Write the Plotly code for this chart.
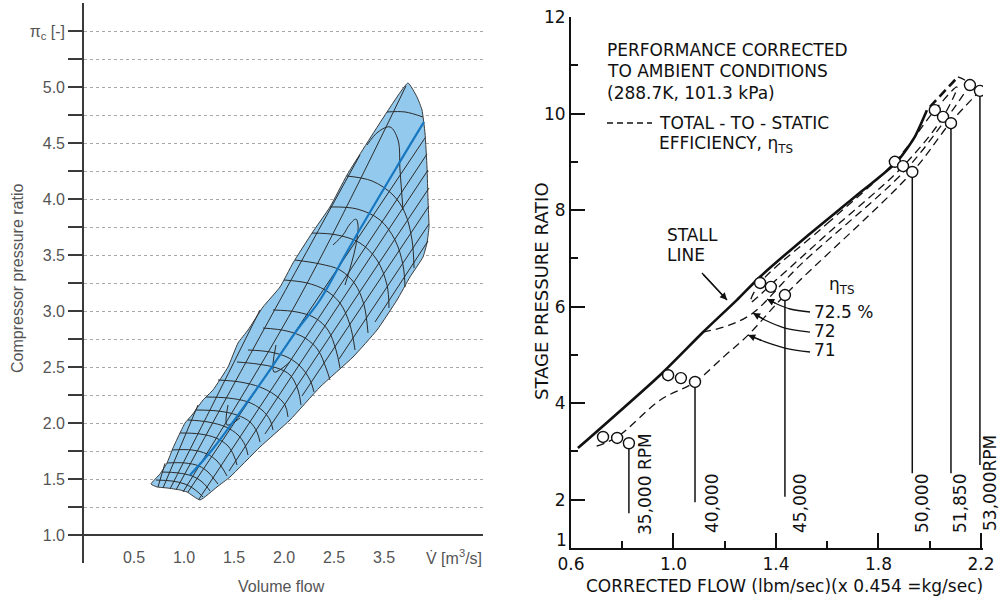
import plotly.graph_objects as go

W, H = 1003, 602

# ---------------- left panel: compressor map ----------------
# outline of the operating region (volume flow in m3/s, pressure ratio)
map_flow = [0.67, 0.76, 0.83, 0.89, 0.96, 1.01, 1.08, 1.19, 1.29, 1.44, 1.54, 1.64, 1.79, 1.96, 2.09,
            2.28, 2.46, 2.63, 2.83, 3.03, 3.24, 3.33, 3.38, 3.41, 3.43, 3.44, 3.45, 3.43, 3.39, 3.26,
            3.13, 2.93, 2.69, 2.36, 2.06, 1.76, 1.46, 1.33, 1.16, 1.03, 0.96, 0.83, 0.73, 0.67]
map_ratio = [1.455, 1.545, 1.643, 1.777, 1.911, 2.0, 2.071, 2.205, 2.295, 2.5, 2.714, 2.83, 3.036, 3.214, 3.429,
             3.696, 3.929, 4.214, 4.5, 4.777, 5.036, 4.911, 4.795, 4.589, 4.286, 3.991, 3.75, 3.607, 3.482, 3.304,
             3.098, 2.830, 2.589, 2.321, 2.027, 1.786, 1.518, 1.429, 1.313, 1.384, 1.402, 1.420, 1.429, 1.455]

# best-efficiency ridge
ridge_flow = [1.06, 1.28, 1.79, 2.13, 2.36, 2.64, 3.11, 3.40]
ridge_ratio = [1.536, 1.759, 2.384, 2.830, 3.098, 3.545, 4.259, 4.688]

# speed lines (surge side -> choke side)
speed_lines = [
    ([3.03, 3.21, 3.39], [4.777, 4.777, 4.732]),
    ([2.83, 2.94, 3.06, 3.14, 3.16, 3.19], [4.482, 4.598, 4.643, 4.527, 4.259, 3.902]),
    ([2.63, 2.88, 3.09, 3.21, 3.28, 3.30], [4.205, 4.161, 4.036, 3.875, 3.634, 3.384]),
    ([2.46, 2.73, 2.96, 3.11, 3.19, 3.21], [3.929, 3.911, 3.813, 3.634, 3.411, 3.214]),
    ([2.28, 2.53, 2.76, 2.93, 3.03, 3.05], [3.696, 3.679, 3.607, 3.455, 3.232, 3.027]),
    ([2.11, 2.36, 2.56, 2.71, 2.80, 2.84], [3.455, 3.420, 3.366, 3.241, 3.054, 2.804]),
    ([2.00, 2.23, 2.41, 2.56, 2.66, 2.71], [3.277, 3.250, 3.188, 3.071, 2.875, 2.652]),
    ([1.89, 2.13, 2.31, 2.44, 2.52, 2.56], [3.009, 2.991, 2.938, 2.830, 2.652, 2.491]),
    ([1.79, 2.03, 2.21, 2.34, 2.42, 2.46], [2.848, 2.821, 2.759, 2.652, 2.491, 2.384]),
    ([1.64, 1.86, 2.03, 2.16, 2.26, 2.30], [2.652, 2.634, 2.589, 2.509, 2.384, 2.277]),
    ([1.53, 1.73, 1.93, 2.06, 2.14, 2.17], [2.545, 2.527, 2.491, 2.429, 2.295, 2.161]),
    ([1.34, 1.56, 1.76, 1.91, 2.01, 2.04], [2.384, 2.366, 2.321, 2.250, 2.161, 2.054]),
    ([1.22, 1.44, 1.64, 1.78, 1.86, 1.89], [2.232, 2.223, 2.188, 2.116, 2.027, 1.938]),
    ([1.12, 1.34, 1.53, 1.66, 1.73, 1.76], [2.116, 2.107, 2.071, 2.009, 1.920, 1.830]),
    ([1.04, 1.24, 1.42, 1.54, 1.61, 1.64], [2.027, 2.009, 1.964, 1.893, 1.804, 1.714]),
    ([0.96, 1.16, 1.32, 1.44, 1.50, 1.53], [1.911, 1.902, 1.866, 1.795, 1.705, 1.625]),
    ([0.88, 1.08, 1.23, 1.33, 1.39, 1.43], [1.759, 1.759, 1.723, 1.661, 1.589, 1.527]),
    ([0.83, 1.01, 1.15, 1.24, 1.30, 1.34], [1.643, 1.643, 1.616, 1.5625, 1.500, 1.455]),
    ([0.78, 0.94, 1.08, 1.17, 1.23, 1.26], [1.5625, 1.554, 1.527, 1.482, 1.429, 1.393]),
    ([0.72, 0.88, 1.01, 1.10, 1.16, 1.19], [1.491, 1.482, 1.455, 1.411, 1.366, 1.339]),
]

# throttle lines: those right of the ridge run up to the choke side,
# those left of it fan out from the low-speed end to the surge side
throttle_lines = [
    ([1.04, 3.41], [1.384, 4.545]),
    ([1.15, 3.43], [1.321, 4.402]),
    ([1.45, 3.44], [1.571, 4.259]),
    ([1.81, 3.45], [1.902, 4.098]),
    ([2.18, 3.45], [2.241, 3.938]),
    ([2.55, 3.45], [2.571, 3.777]),
    ([2.91, 3.44], [2.902, 3.625]),
    ([0.99, 2.14, 3.22], [1.384, 3.098, 5.01]),
    ([0.92, 1.84, 2.76], [1.402, 2.902, 4.393]),
    ([0.86, 1.31, 1.76], [1.411, 2.205, 3.009]),
    ([0.79, 1.14], [1.420, 2.161]),
    ([0.74, 0.81], [1.429, 1.64]),
]

# efficiency islands
eff_islands = [
    ([2.49, 2.59, 2.66, 2.72, 2.74, 2.72, 2.67, 2.61], [3.589, 3.679, 3.777, 3.821, 3.768, 3.589, 3.411, 3.232]),
    ([1.92, 1.90, 2.06], [2.696, 2.455, 2.545]),
    ([1.44, 1.43, 1.56], [2.161, 1.982, 2.045]),
]

left_yticks = [1.0, 1.25, 1.5, 1.75, 2.0, 2.25, 2.5, 2.75, 3.0, 3.25, 3.5, 3.75, 4.0, 4.25, 4.5,
               4.75, 5.0, 5.25, 5.5]
left_ytext = ["1.0", "", "1.5", "", "2.0", "", "2.5", "", "3.0", "", "3.5", "", "4.0", "", "4.5",
              "", "5.0", "", "π<sub>c</sub> [-]"]
left_xticks = [0.5, 1.0, 1.5, 2.0, 2.5, 3.0]
left_xtext = ["0.5", "1.0", "1.5", "2.0", "2.5", "3.5"]

# ---------------- right panel: stage performance ----------------
stall_flow = [0.627, 0.947, 1.115, 1.248, 1.338, 1.521, 1.700, 1.872, 1.940, 1.989]
stall_ratio = [3.07, 4.58, 5.47, 6.14, 6.62, 7.46, 8.24, 9.00, 9.50, 10.07]
stall_ext_flow = [2.001, 2.110]
stall_ext_ratio = [10.14, 10.76]

rpm_labels = ["35,000 RPM", "40,000", "45,000", "50,000", "51,850", "53,000RPM"]
rpm_flow = [[0.725, 0.78, 0.826], [0.979, 1.029, 1.084], [1.338, 1.38, 1.435],
            [1.864, 1.896, 1.932], [2.02, 2.052, 2.083], [2.157, 2.196]]
rpm_ratio = [[3.30, 3.28, 3.17], [4.58, 4.52, 4.44], [6.49, 6.41, 6.24],
             [9.00, 8.91, 8.79], [10.07, 9.93, 9.80], [10.59, 10.47]]
rpm_line_end = [1.72, 1.95, 2.06, 2.55, 2.55, 2.72]

eff725_flow = [1.338, 1.60, 1.864, 2.02, 2.106, 2.052, 1.896, 1.62, 1.40, 1.30, 1.338]
eff725_ratio = [6.49, 7.72, 9.00, 10.07, 10.55, 9.93, 8.91, 7.60, 6.55, 6.09, 6.49]
eff72_flow = [1.115, 1.22, 1.31, 1.494, 1.90, 2.06, 2.157]
eff72_ratio = [5.47, 5.62, 5.87, 6.86, 8.80, 9.86, 10.59]
eff71_flow = [0.70, 0.78, 0.95, 1.084, 1.20, 1.291, 1.435, 1.932, 2.079, 2.196]
eff71_ratio = [3.11, 3.30, 4.07, 4.44, 4.98, 5.41, 6.24, 8.79, 9.80, 10.47]
top_cap_flow = [2.110, 2.135, 2.157]
top_cap_ratio = [10.76, 10.70, 10.59]

# leader curves for the efficiency labels
lead725_flow = [1.533, 1.455, 1.404, 1.365]
lead725_ratio = [5.889, 5.951, 6.054, 6.158]
lead72_flow = [1.533, 1.435, 1.357, 1.310]
lead72_ratio = [5.474, 5.557, 5.723, 5.868]
lead71_flow = [1.533, 1.435, 1.349, 1.291]
lead71_ratio = [5.060, 5.143, 5.288, 5.412]
stall_lead_flow = [1.111, 1.209]
stall_lead_ratio = [6.697, 6.137]

right_yticks = [2, 4, 6, 8, 10, 12]
right_xticks = [0.6, 1.0, 1.4, 1.8, 2.2]

GREY = "#555555"
AX = "#3a3a3a"
LFONT = "Liberation Sans"
RFONT = "DejaVu Sans"
INK = "#111111"


def paper(px, py):
    return px / W, 1 - py / H


fig = go.Figure()

# filled map
fig.add_trace(go.Scatter(x=map_flow, y=map_ratio, mode="lines", fill="toself",
                         fillcolor="#93C9EC", line=dict(color="#3a3a3a", width=1, shape="spline", smoothing=0.4),
                         xaxis="x", yaxis="y", hoverinfo="skip"))
for fx, fy in speed_lines + eff_islands + throttle_lines:
    fig.add_trace(go.Scatter(x=fx, y=fy, mode="lines", line=dict(color="#2b2b2b", width=1, shape="spline"),
                             xaxis="x", yaxis="y", hoverinfo="skip"))
fig.add_trace(go.Scatter(x=ridge_flow, y=ridge_ratio, mode="lines",
                         line=dict(color="#1777C0", width=2.2, shape="spline"),
                         xaxis="x", yaxis="y", hoverinfo="skip"))

# right panel lines
fig.add_trace(go.Scatter(x=stall_flow, y=stall_ratio, mode="lines",
                         line=dict(color=INK, width=2.6, shape="spline", smoothing=0.6), xaxis="x2", yaxis="y2"))
fig.add_trace(go.Scatter(x=stall_ext_flow, y=stall_ext_ratio, mode="lines",
                         line=dict(color=INK, width=2.6, dash="9px,5px"), xaxis="x2", yaxis="y2"))
for fx, fy in [(eff725_flow, eff725_ratio), (eff72_flow, eff72_ratio), (eff71_flow, eff71_ratio),
               (top_cap_flow, top_cap_ratio)]:
    fig.add_trace(go.Scatter(x=fx, y=fy, mode="lines",
                             line=dict(color=INK, width=1.3, dash="8px,5px", shape="spline"),
                             xaxis="x2", yaxis="y2"))
for fx, fy in [(lead725_flow, lead725_ratio), (lead72_flow, lead72_ratio), (lead71_flow, lead71_ratio),
               (stall_lead_flow, stall_lead_ratio)]:
    fig.add_trace(go.Scatter(x=fx, y=fy, mode="lines", line=dict(color=INK, width=1.3, shape="spline"),
                             xaxis="x2", yaxis="y2"))
for fx, fy, yend in zip(rpm_flow, rpm_ratio, rpm_line_end):
    fig.add_trace(go.Scatter(x=[fx[-1], fx[-1]], y=[fy[-1], yend], mode="lines",
                             line=dict(color=INK, width=1.5), xaxis="x2", yaxis="y2"))
    fig.add_trace(go.Scatter(x=fx, y=fy, mode="markers",
                             marker=dict(symbol="circle", size=11, color="white",
                                         line=dict(color=INK, width=1.4)),
                             xaxis="x2", yaxis="y2"))

ann = []
# arrowheads on the leaders
for fx, fy in [(lead725_flow, lead725_ratio), (lead72_flow, lead72_ratio), (lead71_flow, lead71_ratio),
               (stall_lead_flow, stall_lead_ratio)]:
    ann.append(dict(x=fx[-1], y=fy[-1], ax=fx[-2], ay=fy[-2], xref="x2", yref="y2", axref="x2", ayref="y2",
                    showarrow=True, arrowhead=2, arrowsize=1.1, arrowwidth=1.3, arrowcolor=INK, text=""))


def ltxt(text, px, py, **kw):
    x, y = paper(px, py)
    d = dict(text=text, x=x, y=y, xref="paper", yref="paper", showarrow=False,
             font=dict(family=LFONT, size=16, color=GREY), xanchor="center", yanchor="middle")
    d.update(kw)
    ann.append(d)


ltxt("Compressor pressure ratio", 17, 278, textangle=-90)
ltxt("Volume flow", 281, 586)
ltxt("V\u0307 [m<sup>3</sup>/s]", 454, 557)


def rtxt(text, px, py, size=17, **kw):
    x, y = paper(px, py)
    d = dict(text=text, x=x, y=y, xref="paper", yref="paper", showarrow=False,
             font=dict(family=RFONT, size=size, color=INK), xanchor="left", yanchor="middle")
    d.update(kw)
    ann.append(d)


rtxt("PERFORMANCE CORRECTED", 605, 50)
rtxt("TO AMBIENT CONDITIONS", 605, 71)
rtxt("(288.7K, 101.3 kPa)", 605, 93)
rtxt("TOTAL - TO - STATIC", 657, 123)
rtxt("EFFICIENCY, η<sub>TS</sub>", 657, 145)
rtxt("STALL", 665, 235)
rtxt("LINE", 665, 255)
rtxt("η<sub>TS</sub>", 842, 285, xanchor="center")
rtxt("72.5 %", 812, 312)
rtxt("72", 812, 331)
rtxt("71", 812, 350)
rtxt("1", 561, 540, xanchor="center")
rtxt("STAGE PRESSURE RATIO", 541, 291, size=18, textangle=-90, xanchor="center")
rtxt("CORRECTED FLOW (lbm/sec)(x 0.454 =kg/sec)", 784, 586, xanchor="center")
for lab, px, py in zip(rpm_labels, [645, 712, 800, 922, 960, 990], [484, 504, 504, 504, 504, 483]):
    rtxt(lab, px, py, textangle=-90, xanchor="center")

# dash sample in the note
x0, y0 = paper(607, 123)
x1, _ = paper(652, 123)
shapes = [dict(type="line", xref="paper", yref="paper", x0=x0, x1=x1, y0=y0, y1=y0,
               line=dict(color=INK, width=1.3, dash="6px,4px"))]

fig.update_layout(
    width=W, height=H, margin=dict(l=0, r=0, t=0, b=0, autoexpand=False),
    paper_bgcolor="white", plot_bgcolor="rgba(0,0,0,0)", showlegend=False,
    annotations=ann, shapes=shapes,
    xaxis=dict(domain=[84 / W, 483 / W], range=[0, 3.99], anchor="free", position=67 / H,
               automargin=False,
               showline=True, linecolor=AX, linewidth=1.6, showgrid=False, zeroline=False,
               tickvals=left_xticks, ticktext=left_xtext, ticks="", ticklabelstandoff=8,
               tickfont=dict(family=LFONT, size=16, color=GREY)),
    yaxis=dict(domain=[1 - 563 / H, 1 - 3 / H], range=[0.75, 5.75], anchor="x", automargin=False,
               showline=True, linecolor=AX, linewidth=1.6, zeroline=False,
               tickvals=left_yticks, ticktext=left_ytext, ticks="outside", ticklen=14,
               tickwidth=1.5, tickcolor=AX, showgrid=True, gridcolor="#a8a8a8", griddash="dot",
               gridwidth=1, tickfont=dict(family=LFONT, size=16, color=GREY)),
    xaxis2=dict(domain=[571 / W, 983 / W], range=[0.6, 2.208], anchor="y2", automargin=False,
                showline=True, linecolor=INK, linewidth=2, showgrid=False, zeroline=False,
                tickvals=right_xticks, ticktext=["0.6", "1.0", "1.4", "1.8", "2.2"],
                ticks="inside", ticklen=15, tickwidth=1.5, tickcolor=INK, ticklabelstandoff=0,
                minor=dict(tickvals=[0.8, 1.2, 1.6, 2.0], ticks="inside", ticklen=7, tickwidth=1.5,
                           tickcolor=INK, showgrid=False),
                tickfont=dict(family=RFONT, size=17, color=INK)),
    yaxis2=dict(domain=[1 - 548 / H, 1 - 17 / H], range=[1, 12], anchor="x2", automargin=False,
                showline=True, linecolor=INK, linewidth=2, showgrid=False, zeroline=False,
                tickvals=right_yticks, ticktext=["2", "4", "6", "8", "10", "12"],
                ticks="inside", ticklen=14, tickwidth=1.5, tickcolor=INK,
                minor=dict(tickvals=[3, 5, 7, 9, 11], ticks="inside", ticklen=7, tickwidth=1.5,
                           tickcolor=INK, showgrid=False),
                tickfont=dict(family=RFONT, size=17, color=INK)),
)

fig.write_html("out.html")
